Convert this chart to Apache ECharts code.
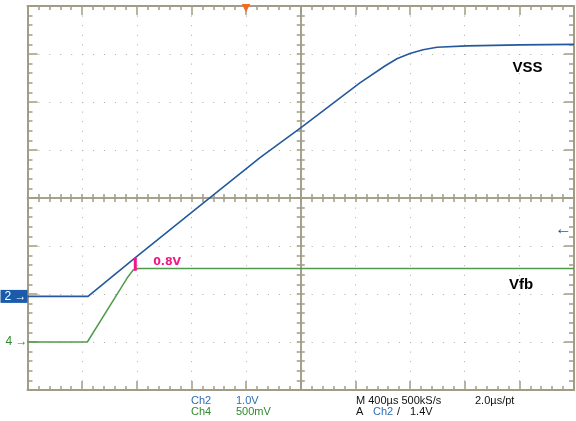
<!DOCTYPE html>
<html>
<head>
<meta charset="utf-8">
<script src="https://cdn.jsdelivr.net/npm/echarts@6/dist/echarts.min.js"></script>
<style>
  html, body { margin: 0; padding: 0; background: #fff; }
  #chart { width: 576px; height: 421px; }
</style>
</head>
<body>
<div id="chart"></div>
<script>
// Ch2 (VSS), time in µs relative to trigger, volts
var vssTime = [-1600, -1157, -806, -337, 102, 409, 833, 1016, 1104, 1199, 1295, 1397, 1616, 2004, 2400]
var vssVolt = [0, 0, 0.82, 1.89, 2.89, 3.53, 4.45, 4.80, 4.95, 5.06, 5.14, 5.19, 5.22, 5.24, 5.25]
// Ch4 (Vfb)
var vfbTime = [-1600, -1162, -930, -864, -826, -791, 2400]
var vfbVolt = [0, 0, 0.53, 0.68, 0.75, 0.766, 0.766]
// 0.8V cursor
var cursorTime = [-811, -811]
var cursorVolt = [0.743, 0.878]

var border = '#a19c85'
var dots = '#aeab98'
var blue = '#245a9c'
var green = '#4f9a4c'
var pink = '#f3168a'

function pairs (xs, ys) {
  var out = []
  for (var i = 0; i < xs.length; i++) out.push([xs[i], ys[i]])
  return out
}

var borderAxis = function (pos, len, minorLen, extra) {
  var a = {
    type: 'value', position: pos,
    axisLine: { show: true, onZero: false, lineStyle: { color: border, width: 2 } },
    axisTick: { show: true, inside: true, length: len, lineStyle: { color: border, width: 1.5 } },
    minorTick: { show: true, splitNumber: 5, length: minorLen, lineStyle: { color: border, width: 1.5 } },
    axisLabel: { show: false },
    splitLine: { show: false }
  }
  return Object.assign(a, extra)
}
var centerAxis = function (pos, inside, zeroIdx, extra) {
  var a = {
    type: 'value', position: pos,
    axisLine: { show: true, onZero: true, onZeroAxisIndex: zeroIdx, lineStyle: { color: border, width: 1.5 } },
    axisTick: { show: true, inside: inside, length: 4, lineStyle: { color: border, width: 1.5 } },
    minorTick: { show: true, splitNumber: 5, length: 4, lineStyle: { color: border, width: 1.5 } },
    axisLabel: { show: false },
    splitLine: { show: false }
  }
  return Object.assign(a, extra)
}
var hiddenAxis = function (pos, min, max, label) {
  return {
    type: 'value', position: pos, min: min, max: max,
    axisLine: { show: false, onZero: false },
    axisTick: { show: false },
    splitLine: { show: false },
    axisLabel: label || { show: false }
  }
}

var chart = echarts.init(document.getElementById('chart'))
chart.setOption({
  animation: false,
  backgroundColor: '#fff',
  grid: { left: 27.5, top: 6, right: 2, bottom: 31, containLabel: false, outerBoundsMode: 'none' },
  xAxis: [
    // 0: time axis, bottom border + vertical dotted grid
    borderAxis('bottom', 9, 4, {
      min: -1600, max: 2400, interval: 400,
      splitLine: { show: true, lineStyle: { color: dots, width: 1, type: [1, 8.6] } }
    }),
    // 1: top border in divisions
    borderAxis('top', 9, 4, { min: -5, max: 5, interval: 1 }),
    // 2: trigger marker
    hiddenAxis('top', -1600, 2400, {
      show: true, inside: true, customValues: [0], margin: -3,
      formatter: function () { return '▼' }, color: '#f26b1f', fontSize: 11, fontFamily: 'DejaVu Sans'
    }),
    // 3,4: horizontal centre line
    centerAxis('bottom', true, 2, { min: -5, max: 5, interval: 1 }),
    centerAxis('bottom', false, 2, { min: -5, max: 5, interval: 1 })
  ],
  yAxis: [
    // 0: Ch2 volts
    hiddenAxis('left', -1.95, 6.05, {
      show: true, customValues: [0], margin: 0,
      formatter: function () { return '2 →' },
      color: '#fff', fontSize: 12, fontFamily: 'Liberation Sans',
      backgroundColor: '#1b5bac', padding: [1, 1, 0, 4]
    }),
    // 1: Ch4 volts
    hiddenAxis('left', -0.5, 3.5, {
      show: true, customValues: [0], margin: 0,
      formatter: function () { return '4 →' },
      color: '#2e8a2e', fontSize: 12, fontFamily: 'Liberation Sans'
    }),
    // 2: left border in divisions + horizontal dotted grid
    borderAxis('left', 10, 5, {
      min: -4, max: 4, interval: 1,
      splitLine: { show: true, lineStyle: { color: dots, width: 1, type: [1, 9.93] } }
    }),
    // 3: right border
    borderAxis('right', 10, 5, { min: -4, max: 4, interval: 1 }),
    // 4,5: vertical centre line
    centerAxis('left', true, 1, { min: -4, max: 4, interval: 1 }),
    centerAxis('left', false, 1, { min: -4, max: 4, interval: 1 }),
    // 6: Ch2 trigger level arrow
    hiddenAxis('right', -1.95, 6.05, {
      show: true, inside: true, customValues: [1.4], margin: 2,
      formatter: function () { return '←' },
      color: blue, fontSize: 17, fontFamily: 'Liberation Sans'
    })
  ],
  series: [
    {
      name: 'VSS', type: 'line', xAxisIndex: 0, yAxisIndex: 0,
      data: pairs(vssTime, vssVolt), showSymbol: false,
      lineStyle: { color: blue, width: 1.6 },
      markPoint: {
        symbol: 'circle', symbolSize: 0, itemStyle: { color: 'transparent' },
        data: [{ coord: [2060, 4.76] }],
        label: { show: true, position: 'inside', formatter: 'VSS', color: '#000', fontSize: 15, fontWeight: 'bold', fontFamily: 'Liberation Sans' }
      }
    },
    {
      name: 'Vfb', type: 'line', xAxisIndex: 0, yAxisIndex: 1,
      data: pairs(vfbTime, vfbVolt), showSymbol: false,
      lineStyle: { color: green, width: 1.5 },
      markPoint: {
        symbol: 'circle', symbolSize: 0, itemStyle: { color: 'transparent' },
        data: [{ coord: [2012, 0.594] }],
        label: { show: true, position: 'inside', formatter: 'Vfb', color: '#000', fontSize: 15, fontWeight: 'bold', fontFamily: 'Liberation Sans' }
      }
    },
    {
      name: 'cursor', type: 'line', xAxisIndex: 0, yAxisIndex: 1,
      data: pairs(cursorTime, cursorVolt), showSymbol: false,
      lineStyle: { color: pink, width: 3 },
      markPoint: {
        symbol: 'circle', symbolSize: 0, itemStyle: { color: 'transparent' },
        data: [{ coord: [-578, 0.833] }],
        label: { show: true, position: 'inside', formatter: '0.8V', color: pink, fontSize: 11, fontWeight: 'bold', fontFamily: 'DejaVu Sans' }
      }
    }
  ],
  graphic: [
    { type: 'text', x: 191, y: 401, style: { text: 'Ch2', fill: '#2f6db3', font: '11px "Liberation Sans"', verticalAlign: 'middle' } },
    { type: 'text', x: 236, y: 401, style: { text: '1.0V', fill: '#2f6db3', font: '11px "Liberation Sans"', verticalAlign: 'middle' } },
    { type: 'text', x: 191, y: 412, style: { text: 'Ch4', fill: '#2e8a2e', font: '11px "Liberation Sans"', verticalAlign: 'middle' } },
    { type: 'text', x: 236, y: 412, style: { text: '500mV', fill: '#2e8a2e', font: '11px "Liberation Sans"', verticalAlign: 'middle' } },
    { type: 'text', x: 356, y: 401, style: { text: 'M 400µs 500kS/s', fill: '#111', font: '11px "Liberation Sans"', verticalAlign: 'middle' } },
    { type: 'text', x: 475, y: 401, style: { text: '2.0µs/pt', fill: '#111', font: '11px "Liberation Sans"', verticalAlign: 'middle' } },
    { type: 'text', x: 356, y: 412, style: { text: 'A', fill: '#111', font: '11px "Liberation Sans"', verticalAlign: 'middle' } },
    { type: 'text', x: 373, y: 412, style: { text: 'Ch2', fill: '#2f6db3', font: '11px "Liberation Sans"', verticalAlign: 'middle' } },
    { type: 'text', x: 397, y: 412, style: { text: '/', fill: '#111', font: '11px "Liberation Sans"', verticalAlign: 'middle' } },
    { type: 'text', x: 410, y: 412, style: { text: '1.4V', fill: '#111', font: '11px "Liberation Sans"', verticalAlign: 'middle' } }
  ]
})
</script>
</body>
</html>
